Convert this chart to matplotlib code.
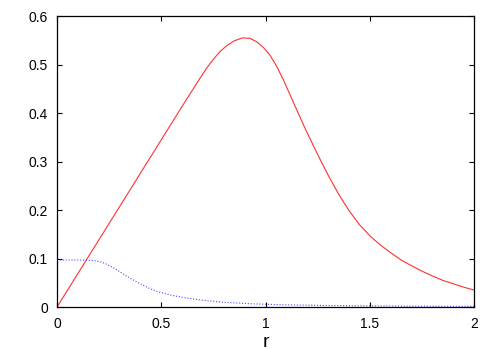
import matplotlib
matplotlib.use("Agg")
import matplotlib.pyplot as plt

plt.rcParams['font.family'] = ['Liberation Sans', 'DejaVu Sans']

# red curve
r_red = [0.0, 0.59, 0.686, 0.72, 0.75, 0.78, 0.814, 0.85, 0.89, 0.925, 0.958,
         0.99, 1.022, 1.055, 1.086, 1.117, 1.15, 1.19, 1.23, 1.261, 1.30,
         1.35, 1.40, 1.45, 1.50, 1.55, 1.60, 1.65, 1.70, 1.75, 1.80, 1.85,
         1.90, 1.95, 2.0]
v_red = [0.0, 0.407, 0.472, 0.494, 0.511, 0.526, 0.539, 0.549, 0.555, 0.554,
         0.547, 0.535, 0.519, 0.495, 0.468, 0.438, 0.406, 0.368, 0.332,
         0.305, 0.272, 0.233, 0.199, 0.170, 0.147, 0.128, 0.112, 0.097,
         0.085, 0.074, 0.064, 0.055, 0.048, 0.041, 0.035]

# blue dotted curve
r_blue = [0.0, 0.1, 0.15, 0.18, 0.21, 0.24, 0.27, 0.30, 0.34, 0.39, 0.44,
          0.48, 0.55, 0.63, 0.70, 0.79, 0.94, 1.1, 1.3, 1.6, 2.0]
v_blue = [0.097, 0.097, 0.0965, 0.0955, 0.093, 0.088, 0.081, 0.073, 0.062,
          0.050, 0.039, 0.032, 0.024, 0.018, 0.014, 0.010, 0.0065, 0.0045,
          0.003, 0.002, 0.0012]

xticks = [0, 0.5, 1, 1.5, 2]
xticklabels = ["0", "0.5", "1", "1.5", "2"]
yticks = [0, 0.1, 0.2, 0.3, 0.4, 0.5, 0.6]
yticklabels = ["0", "0.1", "0.2", "0.3", "0.4", "0.5", "0.6"]

fig = plt.figure(figsize=(4.98, 3.49), dpi=100)
ax = fig.add_axes([0.1145, 0.1203, 0.952 - 0.1145, 0.954 - 0.1203])

ax.plot(r_red, v_red, color='#ff3030', lw=0.8)
ax.plot(r_blue, v_blue, color='#4848ff', lw=0.8, linestyle=(0, (1, 1.6)))

ax.set_xlim(0, 2)
ax.set_ylim(0, 0.6)
ax.set_xticks(xticks)
ax.set_xticklabels(xticklabels)
ax.set_yticks(yticks)
ax.set_yticklabels(yticklabels)
ax.tick_params(direction='in', top=True, right=True, length=3.5, width=0.8,
               labelsize=10)
ax.tick_params(axis='y', pad=6.5)
ax.tick_params(axis='x', pad=7)
for s in ax.spines.values():
    s.set_linewidth(0.9)

ax.set_xlabel("r", fontsize=14, labelpad=2)

fig.savefig("out.png", dpi=100)
